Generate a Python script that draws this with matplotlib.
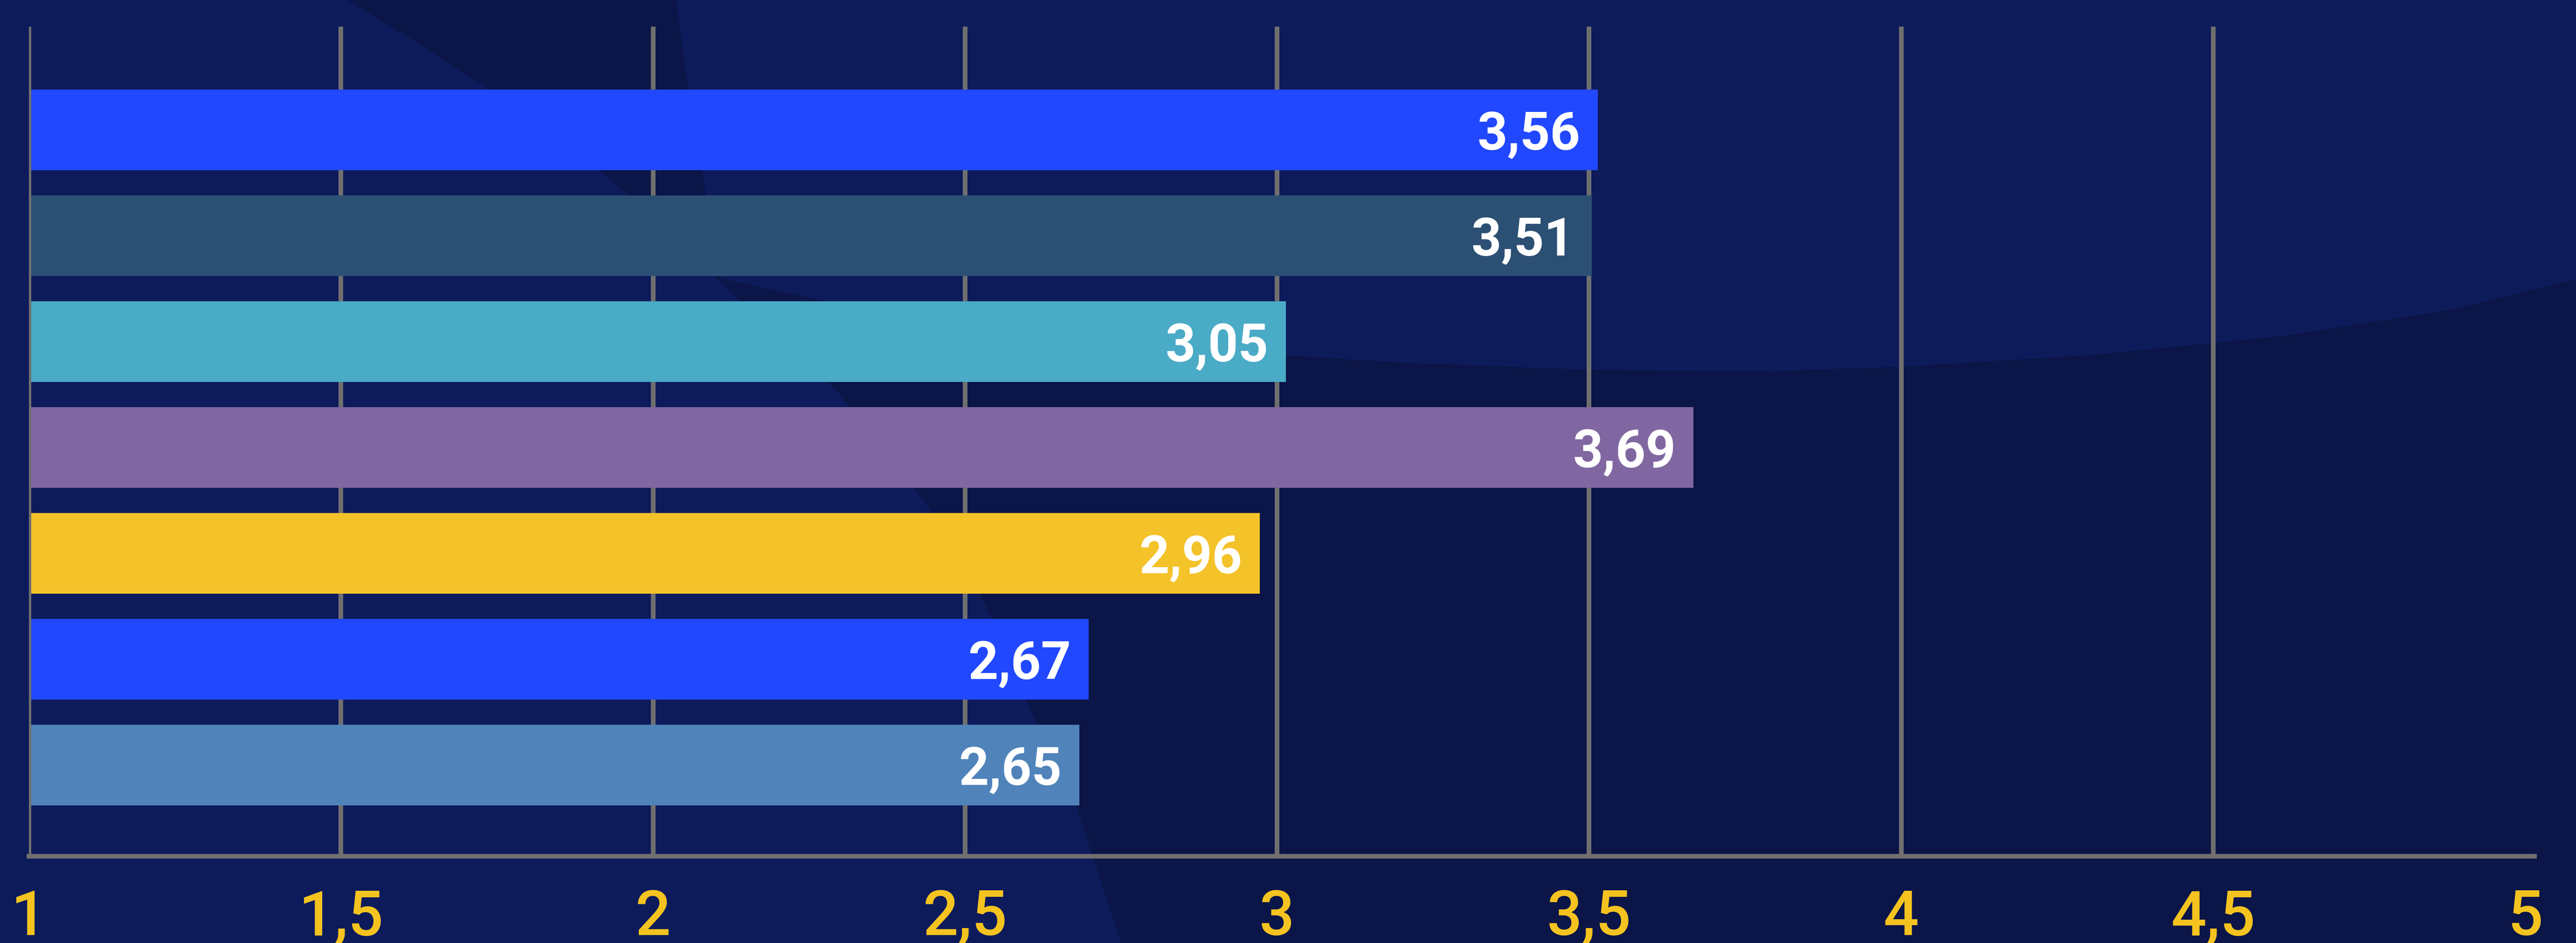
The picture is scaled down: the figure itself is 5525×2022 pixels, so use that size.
import numpy as np
import matplotlib.pyplot as plt
from matplotlib.patches import Polygon

# values printed on the bars (top to bottom)
scores = [3.56, 3.51, 3.05, 3.69, 2.96, 2.67, 2.65]
score_labels = ['3,56', '3,51', '3,05', '3,69', '2,96', '2,67', '2,65']
# the source graphic draws the bars a little off their printed values,
# these are the bar ends
bar_ends = [3.514, 3.504, 3.014, 3.667, 2.972, 2.698, 2.683]
bar_colors = ['#2148fe', '#2c5074', '#4aabc6', '#8067a1', '#f4c229', '#2148fe', '#4f83ba']

x_ticks = [1, 1.5, 2, 2.5, 3, 3.5, 4, 4.5, 5]
x_tick_labels = ['1', '1,5', '2', '2,5', '3', '3,5', '4', '4,5', '5']

W, H = 5525, 2022
BG_LIGHT = '#0e1b5b'
BG_DARK = '#0b1547'
GRID = '#6f6f6f'
YELLOW = '#f4c31f'

plt.rcParams['font.family'] = ['Roboto', 'DejaVu Sans']

fig = plt.figure(figsize=(W / 100, H / 100), dpi=100)
fig.patch.set_facecolor(BG_DARK)

# decorative background shapes, in pixel space
bg = fig.add_axes([0, 0, 1, 1], zorder=0)
bg.set_xlim(0, W)
bg.set_ylim(H, 0)
bg.axis('off')
left_shape = [(0, 0), (745, 0), (900, 95), (1051, 192), (1286, 367), (1347, 418),
              (1587, 645), (1762, 800), (1920, 990), (2044, 1163), (2130, 1330),
              (2202, 1505), (2310, 1735), (2405, 2022), (0, 2022)]
top_shape = [(1450, 0), (1476, 192), (1506, 365), (1540, 592), (1553, 598),
             (1767, 645), (2200, 710), (2758, 762), (3000, 777), (3408, 793),
             (3800, 796), (4100, 785), (4500, 760), (4900, 720), (5250, 665),
             (5525, 599), (5525, 0)]
bg.add_patch(Polygon(left_shape, closed=True, fc=BG_LIGHT, ec='none'))
bg.add_patch(Polygon(top_shape, closed=True, fc=BG_LIGHT, ec='none'))

left, right = 62 / W, 5416 / W
bottom, top = 1 - 1836 / H, 1 - 57 / H
ax = fig.add_axes([left, bottom, right - left, top - bottom], zorder=1)
ax.patch.set_alpha(0)

y = np.arange(len(scores))
ax.barh(y, np.array(bar_ends) - 1, left=1, height=173 / 227, color=bar_colors, zorder=2)

for i, lab in enumerate(score_labels):
    ax.annotate(lab, (bar_ends[i], y[i]), xytext=(-27, 0), textcoords='offset points',
                ha='right', va='center_baseline', color='white', fontsize=81,
                fontweight='bold', zorder=5)

# vertical grid, none at the last tick; the x=1 line sits over the bars
for xt in x_ticks[:-1]:
    ax.axvline(xt, color=GRID, lw=7.2, zorder=4 if xt == 1 else 1, solid_capstyle='butt')

ax.set_xlim(1, 5)
ax.set_ylim(6 + (1836 - 1640.5) / 227, -(278.5 - 57) / 227)

for s in ['top', 'right', 'left', 'bottom']:
    ax.spines[s].set_visible(False)
# baseline runs a touch past the last tick, as in the source
ax.plot([1, 5.015], [ax.get_ylim()[0]] * 2, color=GRID, lw=7.2, clip_on=False,
        solid_capstyle='projecting', zorder=5)

ax.set_yticks([])
ax.set_xticks(x_ticks)
ax.set_xticklabels(x_tick_labels)
ax.tick_params(axis='x', length=0, pad=50, labelsize=96, labelcolor=YELLOW)
for t in ax.get_xticklabels():
    t.set_fontweight('medium')

fig.savefig('out.png', dpi=100, facecolor=fig.get_facecolor())
